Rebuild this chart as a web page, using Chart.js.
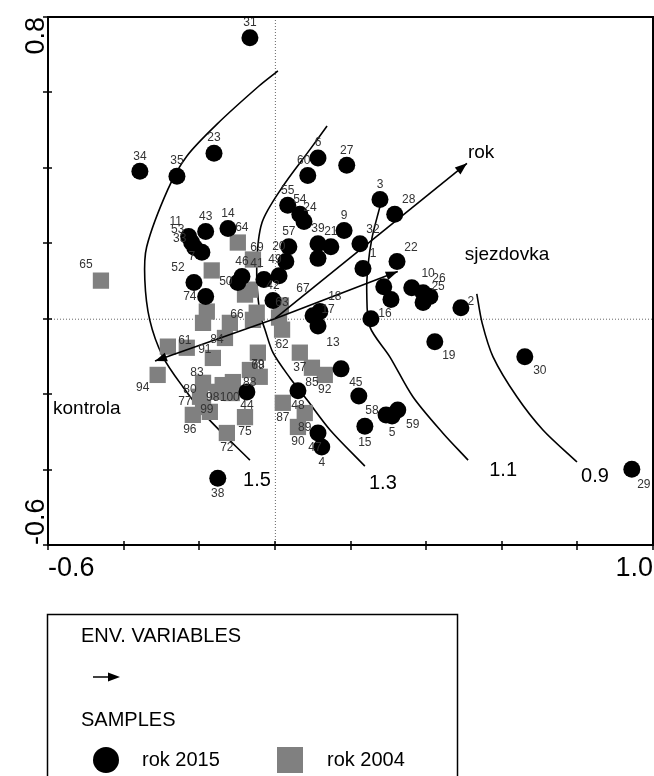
<!DOCTYPE html>
<html lang="en">
<head>
<meta charset="UTF-8">
<title>CCA diagram - rok 2015 / rok 2004</title>
<script src="https://cdn.jsdelivr.net/npm/chart.js"></script>
<style>
  html, body { margin: 0; padding: 0; background: #fff; }
  #wrap { width: 654px; height: 776px; }
</style>
</head>
<body>
<div id="wrap"><canvas id="ordChart" width="654" height="776"></canvas></div>
<script>
// axis ranges and ticks
const xTicks = [-0.6, -0.4, -0.2, 0, 0.2, 0.4, 0.6, 0.8, 1.0];
const yTicks = [-0.6, -0.4, -0.2, 0, 0.2, 0.4, 0.6, 0.8];

// samples rok 2015 (black circles)
const ids2015 = ['31','34','35','23','6','60','27','3','28','55','54','24','9','39','21','57','20','49','41','42',
  '','32','1','22','','','','10','26','25','16','2','17','18','13','19','','45','58','5',
  '59','15','48','47','4','38','30','29','14','43','11','53','33','7','52','','46','50','44'];
const x2015 = [-0.066,-0.357,-0.259,-0.161,0.114,0.087,0.190,0.278,0.317,0.034,0.066,0.077,0.183,0.114,0.148,0.037,0.029,0.011,-0.029,-0.005,
  0.114,0.225,0.233,0.323,0.288,0.307,0.362,0.392,0.410,0.392,0.254,0.492,0.101,0.119,0.114,0.423,0.175,0.222,0.294,0.310,
  0.325,0.238,0.061,0.114,0.124,-0.151,0.661,0.944,-0.124,-0.183,-0.228,-0.220,-0.212,-0.193,-0.214,-0.183,-0.087,-0.098,-0.074];
const y2015 = [0.745,0.391,0.378,0.439,0.426,0.380,0.407,0.316,0.277,0.301,0.277,0.258,0.234,0.199,0.191,0.191,0.152,0.114,0.104,0.048,
  0.160,0.199,0.133,0.152,0.085,0.051,0.082,0.069,0.059,0.043,0.000,0.029,0.008,0.019,-0.019,-0.061,-0.133,-0.205,-0.255,-0.258,
  -0.242,-0.285,-0.191,-0.303,-0.340,-0.423,-0.101,-0.399,0.239,0.231,0.218,0.202,0.189,0.176,0.096,0.059,0.112,0.096,-0.194];

// samples rok 2004 (grey squares)
const ids2004 = ['65','64','69','','','74','','66','','','67','63','','62','61','','84','91','94','83',
  '','','80','77','96','99','98','100','72','75','79','68','88','37','85','92','87','89','90'];
const x2004 = [-0.460,-0.098,-0.058,-0.167,-0.079,-0.180,-0.190,-0.119,-0.058,-0.066,0.016,0.011,-0.048,0.019,-0.283,-0.233,-0.132,-0.164,-0.310,-0.190,
  -0.138,-0.111,-0.198,-0.190,-0.217,-0.172,-0.151,-0.114,-0.127,-0.079,-0.045,-0.066,-0.040,0.066,0.098,0.132,0.021,0.079,0.061];
const y2004 = [0.101,0.202,0.157,0.128,0.064,0.019,-0.011,-0.011,-0.003,0.077,0.035,0.003,0.016,-0.029,-0.074,-0.077,-0.051,-0.104,-0.149,-0.170,
  -0.176,-0.168,-0.207,-0.234,-0.255,-0.247,-0.194,-0.197,-0.303,-0.261,-0.090,-0.136,-0.154,-0.090,-0.130,-0.149,-0.223,-0.250,-0.287];

// isolines (GAM contours)
const isoLevels = ['1.5', '1.3', '1.1', '0.9'];
const iso15x = [0.008,-0.042,-0.153,-0.233,-0.283,-0.339,-0.344,-0.331,-0.296,-0.243,-0.180,-0.066];
const iso15y = [0.657,0.617,0.516,0.431,0.343,0.191,0.104,-0.003,-0.101,-0.181,-0.261,-0.375];
const iso13x = [0.138,0.093,0.019,-0.034,-0.048,-0.040,-0.026,-0.005,0.040,0.085,0.146,0.238];
const iso13y = [0.511,0.449,0.348,0.255,0.138,0.016,-0.029,-0.090,-0.157,-0.215,-0.295,-0.391];
const iso11x = [0.278,0.257,0.246,0.243,0.251,0.304,0.365,0.444,0.511];
const iso11y = [0.298,0.215,0.138,0.069,-0.021,-0.101,-0.207,-0.303,-0.375];
const iso09x = [0.534,0.548,0.577,0.640,0.709,0.799];
const iso09y = [0.066,-0.011,-0.101,-0.207,-0.295,-0.380];

// environmental variables (arrow tips)
const envNames = ['rok', 'sjezdovka', 'kontrola'];
const envX = [0.508, 0.325, -0.317];
const envY = [0.412, 0.125, -0.112];

// label nudges in pixels (style only)
const nudge2015 = {'28':[14,-15],'32':[13,-14],'1':[10,-15],'22':[14,-14],'16':[14,-5],'2':[10,-6],'19':[14,14],
  '13':[15,17],'45':[-3,-13],'58':[-14,-4],'5':[0,17],'59':[15,15],'15':[0,16],'48':[0,15],'47':[-3,15],'4':[0,16],
  '38':[0,15],'30':[15,14],'29':[12,15],'11':[-13,-15],'53':[-14,-13],'33':[-15,-9],'7':[-10,4],'52':[-16,-15],
  '20':[-7,-15],'49':[-4,-16],'41':[-7,-16],'18':[15,-15],'17':[15,-6],'10':[5,-19],'26':[9,-18],'25':[15,-16],
  '44':[0,14],'50':[-12,-1],'60':[-4,-15],'24':[6,-14]};
const nudge2004 = {'65':[-15,-16],'64':[4,-15],'69':[4,-12],'74':[-17,-15],'66':[7,-8],'67':[22,-17],'63':[3,-15],
  '61':[17,-6],'84':[-8,2],'91':[-8,-8],'94':[-15,13],'83':[-6,-10],'80':[-10,-7],'77':[-18,-5],'99':[-3,-2],
  '96':[-3,15],'98':[-5,6],'100':[-2,5],'79':[0,12],'68':[8,-4],'88':[-10,6]};
const isoNudge = [[7,20],[18,17],[35,10],[18,14]];
const envNudge = [[1,-11,'left'],[67,-17,'left'],[-102,48,'left']];

function pairs(xs, ys) { return xs.map((x, i) => ({ x: x, y: ys[i] })); }

const isoSets = [[iso15x, iso15y], [iso13x, iso13y], [iso11x, iso11y], [iso09x, iso09y]].map(function (c, i) {
  return {
    label: 'iso ' + isoLevels[i], data: pairs(c[0], c[1]), showLine: true, borderColor: '#000',
    borderWidth: 1.6, pointRadius: 0, tension: 0.3, fill: false, order: 3
  };
});
const envSets = envNames.map(function (n, i) {
  return {
    label: n, data: [{ x: 0, y: 0 }, { x: envX[i], y: envY[i] }], showLine: true, borderColor: '#000',
    borderWidth: 1.6, pointRadius: 0, fill: false, order: -1
  };
});

const decor = {
  id: 'decor',
  beforeDatasetsDraw(chart) {
    const ctx = chart.ctx, a = chart.chartArea, sx = chart.scales.x, sy = chart.scales.y;
    const x0 = sx.getPixelForValue(0), y0 = sy.getPixelForValue(0);
    ctx.save();
    ctx.strokeStyle = '#666';
    ctx.lineWidth = 1;
    ctx.setLineDash([1, 2]);
    ctx.beginPath();
    ctx.moveTo(x0 + 0.5, a.top); ctx.lineTo(x0 + 0.5, a.bottom);
    ctx.moveTo(a.left, y0 + 0.5); ctx.lineTo(a.right, y0 + 0.5);
    ctx.stroke();
    ctx.restore();
  },
  afterDatasetsDraw(chart) {
    const ctx = chart.ctx, a = chart.chartArea, sx = chart.scales.x, sy = chart.scales.y;
    const ox = sx.getPixelForValue(0), oy = sy.getPixelForValue(0);
    ctx.save();

    // arrow heads
    ctx.fillStyle = '#000';
    envNames.forEach(function (n, i) {
      const tx = sx.getPixelForValue(envX[i]), ty = sy.getPixelForValue(envY[i]);
      arrowHead(ctx, ox, oy, tx, ty);
      ctx.font = '19px Arial';
      ctx.textAlign = envNudge[i][2];
      ctx.textBaseline = 'middle';
      ctx.fillText(n, tx + envNudge[i][0], ty + envNudge[i][1]);
    });

    // sample labels
    ctx.font = '12px Arial';
    ctx.fillStyle = '#333';
    ctx.textAlign = 'center';
    ctx.textBaseline = 'middle';
    [[0, ids2004, nudge2004, [0, 15]], [1, ids2015, nudge2015, [0, -15]]].forEach(function (s) {
      const meta = chart.getDatasetMeta(s[0]);
      meta.data.forEach(function (pt, j) {
        const id = s[1][j];
        if (!id) return;
        const d = s[2][id] || s[3];
        ctx.fillText(id, pt.x + d[0], pt.y + d[1]);
      });
    });

    // isoline labels
    ctx.font = '20px Arial';
    ctx.fillStyle = '#000';
    isoSets.forEach(function (ds, i) {
      const last = ds.data[ds.data.length - 1];
      ctx.fillText(isoLevels[i], sx.getPixelForValue(last.x) + isoNudge[i][0], sy.getPixelForValue(last.y) + isoNudge[i][1]);
    });

    // frame and axes
    ctx.strokeStyle = '#000';
    ctx.lineWidth = 2;
    ctx.strokeRect(a.left, a.top, a.right - a.left, a.bottom - a.top);
    ctx.lineWidth = 1.5;
    ctx.beginPath();
    xTicks.forEach(function (v) {
      const px = Math.round(sx.getPixelForValue(v));
      ctx.moveTo(px, a.bottom - 4); ctx.lineTo(px, a.bottom + 5);
    });
    yTicks.forEach(function (v) {
      const py = Math.round(sy.getPixelForValue(v));
      ctx.moveTo(a.left - 5, py); ctx.lineTo(a.left + 4, py);
    });
    ctx.stroke();

    ctx.font = '27px Arial';
    ctx.textBaseline = 'middle';
    ctx.textAlign = 'left';
    ctx.fillText('-0.6', a.left, a.bottom + 24);
    ctx.textAlign = 'right';
    ctx.fillText('1.0', a.right, a.bottom + 24);
    ctx.save();
    ctx.translate(a.left - 11, 0);
    ctx.rotate(-Math.PI / 2);
    ctx.textAlign = 'right';
    ctx.fillText('0.8', -a.top, 0);
    ctx.textAlign = 'left';
    ctx.fillText('-0.6', -a.bottom, 0);
    ctx.restore();

    // legend box
    ctx.lineWidth = 1.5;
    ctx.strokeRect(47.5, 614.5, 410, 200);
    ctx.font = '20px Arial';
    ctx.textAlign = 'left';
    ctx.fillText('ENV. VARIABLES', 81, 636);
    ctx.beginPath();
    ctx.moveTo(93, 677); ctx.lineTo(112, 677);
    ctx.stroke();
    arrowHead(ctx, 93, 677, 120, 677);
    ctx.fillText('SAMPLES', 81, 720);
    ctx.beginPath();
    ctx.arc(106, 760, 13, 0, Math.PI * 2);
    ctx.fill();
    ctx.fillText('rok 2015', 142, 760);
    ctx.fillStyle = '#808080';
    ctx.fillRect(277, 747, 26, 26);
    ctx.fillStyle = '#000';
    ctx.fillText('rok 2004', 327, 760);
    ctx.restore();
  }
};

function arrowHead(ctx, x1, y1, x2, y2) {
  const ang = Math.atan2(y2 - y1, x2 - x1), len = 12, hw = 4.5;
  ctx.beginPath();
  ctx.moveTo(x2, y2);
  ctx.lineTo(x2 - len * Math.cos(ang) + hw * Math.sin(ang), y2 - len * Math.sin(ang) - hw * Math.cos(ang));
  ctx.lineTo(x2 - len * Math.cos(ang) - hw * Math.sin(ang), y2 - len * Math.sin(ang) + hw * Math.cos(ang));
  ctx.closePath();
  ctx.fill();
}

const ordChart = new Chart(document.getElementById('ordChart'), {
  type: 'scatter',
  data: {
    datasets: [
      { label: 'rok 2004', data: pairs(x2004, y2004), pointStyle: 'rect', pointRadius: 11.5, pointHoverRadius: 11.5,
        backgroundColor: '#808080', borderWidth: 0, order: 2 },
      { label: 'rok 2015', data: pairs(x2015, y2015), pointStyle: 'circle', pointRadius: 8.5, pointHoverRadius: 8.5,
        backgroundColor: '#000', borderWidth: 0, order: 1 }
    ].concat(isoSets, envSets)
  },
  options: {
    responsive: false,
    animation: false,
    events: [],
    layout: { autoPadding: false, padding: { left: 48, top: 17, right: 1, bottom: 231 } },
    scales: {
      x: { type: 'linear', min: -0.6, max: 1.0, display: false },
      y: { type: 'linear', min: -0.6, max: 0.8, display: false }
    },
    plugins: { legend: { display: false }, tooltip: { enabled: false } }
  },
  plugins: [decor]
});
</script>
</body>
</html>
